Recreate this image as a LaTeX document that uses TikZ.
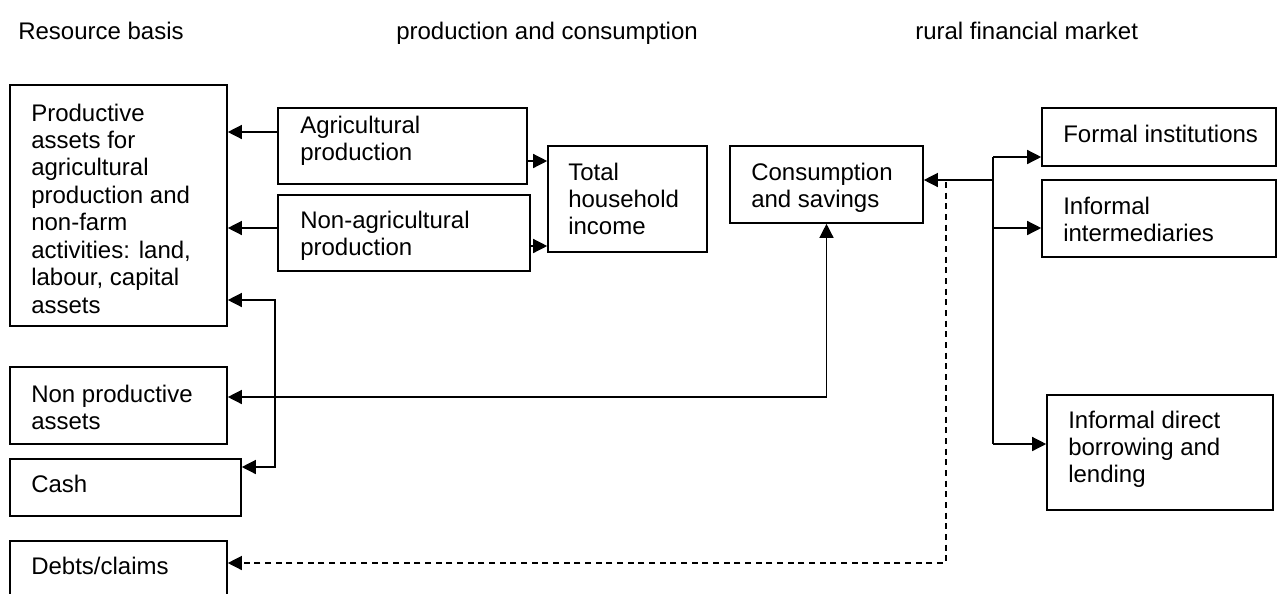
\documentclass[tikz,border=0pt]{standalone}
\usepackage{fontspec}
\setmainfont{Liberation Sans}
\usetikzlibrary{arrows.meta,fit}
\tikzset{
  box/.style={draw, line width=1.2pt, inner sep=0pt},
  txt/.style={anchor=base west, inner sep=0pt, font=\fontsize{18}{20.6}\selectfont},
  line/.style={line width=1pt},
  conn/.style={line width=1pt, -{Triangle[length=10.5pt,width=10.5pt]}},
  conntwo/.style={line width=1pt, {Triangle[length=10.5pt,width=10.5pt]}-{Triangle[length=10.5pt,width=10.5pt]}},
  dashline/.style={dash pattern=on 4.5pt off 3.5pt}
}
\newcommand{\lines}[1]{\begin{tabular}[t]{@{}l@{}}#1\end{tabular}}
\begin{document}
\begin{tikzpicture}[x=0.75pt,y=-0.75pt]
\useasboundingbox (0,0) rectangle (1280,593);
\clip (0,0) rectangle (1280,593);

% headers
\node[txt] (h1) at (18,39) {Resource basis};
\node[txt] (h2) at (396,39) {production and consumption};
\node[txt] (h3) at (915,39) {rural financial market};

% boxes
\node[box, fit={(10,85) (227,326)}] (prod) {};
\node[txt] (prodt) at (31,121) {\lines{Productive\\assets for\\agricultural\\production and\\non-farm\\activities: land,\\labour, capital\\assets}};

\node[box, fit={(278,108) (527,184)}] (agri) {};
\node[txt] (agrit) at (300,133) {\lines{Agricultural\\production}};

\node[box, fit={(278,195) (530,271)}] (nonagri) {};
\node[txt] (nonagrit) at (300,228) {\lines{Non-agricultural\\production}};

\node[box, fit={(548,146) (707,252)}] (total) {};
\node[txt] (totalt) at (568,180) {\lines{Total\\household\\income}};

\node[box, fit={(730,146) (923,223)}] (cons) {};
\node[txt] (const) at (751,180) {\lines{Consumption\\and savings}};

\node[box, fit={(1042,108) (1276,166)}] (formal) {};
\node[txt] (formalt) at (1063,142) {Formal institutions};

\node[box, fit={(1042,180) (1276,257)}] (infint) {};
\node[txt] (infintt) at (1063,214) {\lines{Informal\\intermediaries}};

\node[box, fit={(1047,395) (1273,510)}] (infdir) {};
\node[txt] (infdirt) at (1068,428) {\lines{Informal direct\\borrowing and\\lending}};

\node[box, fit={(10,367) (227,444)}] (nonprod) {};
\node[txt] (nonprodt) at (31,402) {\lines{Non productive\\assets}};

\node[box, fit={(10,459) (241,516)}] (cash) {};
\node[txt] (casht) at (31,492) {Cash};

\node[box, fit={(10,541) (227,640)}] (debts) {};
\node[txt] (debtst) at (31,574) {Debts/claims};

% connector levels
\coordinate (yA) at (0,132);
\coordinate (yB) at (0,228);
\coordinate (yC) at (0,161);
\coordinate (yD) at (0,246);
\coordinate (j1) at (275,300);
\coordinate (j2) at (275,467);
\coordinate (k) at (826,397);
\coordinate (f0) at (993,157);
\coordinate (f1) at (993,180);
\coordinate (f2) at (993,228);
\coordinate (f3) at (993,444);
\coordinate (d1) at (946,182);
\coordinate (d2) at (946,563);

\draw[conn] (agri.west|-yA) -- (prod.east|-yA);
\draw[conn] (nonagri.west|-yB) -- (prod.east|-yB);
\draw[conn] (agri.east|-yC) -- (total.west|-yC);
\draw[conn] (nonagri.east|-yD) -- (total.west|-yD);
\draw[conntwo] (prod.east|-j1) -- (j1) -- (j2) -- (cash.east|-j2);
\draw[conntwo] (nonprod.east|-k) -- (cons.south|-k) -- (cons.south);
\draw[line] (f0) -- (f3);
\draw[conn] (f1) -- (cons.east|-f1);
\draw[conn] (f0) -- (formal.west|-f0);
\draw[conn] (f2) -- (infint.west|-f2);
\draw[conn] (f3) -- (infdir.west|-f3);
\draw[conn, dashline] (d1) -- (d2) -- (debts.east|-d2);
\end{tikzpicture}
\end{document}
